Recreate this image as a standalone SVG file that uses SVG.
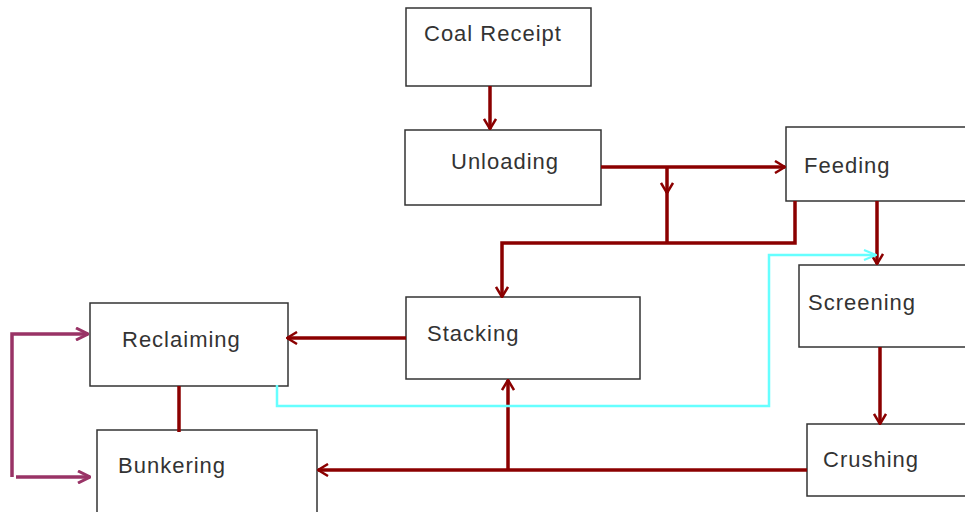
<svg xmlns="http://www.w3.org/2000/svg" width="965" height="512" viewBox="0 0 965 512">
<style>
.box{fill:#fff;stroke:#333;stroke-width:1.5}
.lbl{font-family:"Liberation Sans",Arial,sans-serif;font-size:22px;letter-spacing:1px;fill:#333}
.red{fill:none;stroke:#8b0000;stroke-width:3.5}
.cyan{fill:none;stroke:#66ffff;stroke-width:2.5}
.pur{fill:none;stroke:#993366;stroke-width:3.5}
</style>
<defs>
<marker id="ar" viewBox="0 0 12 14" refX="11" refY="7" markerWidth="12" markerHeight="14" markerUnits="userSpaceOnUse" orient="auto">
<path d="M1,1 L11,7 L1,13" fill="none" stroke="#8b0000" stroke-width="2.5"/>
</marker>
<marker id="ac" viewBox="0 0 14 12" refX="13" refY="6" markerWidth="14" markerHeight="12" markerUnits="userSpaceOnUse" orient="auto">
<path d="M1,1 L13,6 L1,11" fill="none" stroke="#66ffff" stroke-width="2"/>
</marker>
<marker id="ap" viewBox="0 0 14 14" refX="13" refY="7" markerWidth="14" markerHeight="14" markerUnits="userSpaceOnUse" orient="auto">
<path d="M1,1 L13,7 L1,13" fill="none" stroke="#993366" stroke-width="3"/>
</marker>
</defs>
<rect width="965" height="512" fill="#fff"/>
<g id="coal-receipt"><rect class="box" x="406" y="8" width="185" height="78"/><text class="lbl" x="424" y="41">Coal Receipt</text></g>
<g id="unloading"><rect class="box" x="405" y="130" width="196" height="75"/><text class="lbl" x="451" y="169">Unloading</text></g>
<g id="feeding"><rect class="box" x="786" y="127" width="190" height="74"/><text class="lbl" x="804" y="173">Feeding</text></g>
<g id="screening"><rect class="box" x="799" y="265" width="180" height="82"/><text class="lbl" x="808" y="310">Screening</text></g>
<g id="crushing"><rect class="box" x="807" y="424" width="170" height="72"/><text class="lbl" x="823" y="467">Crushing</text></g>
<g id="stacking"><rect class="box" x="406" y="297" width="234" height="82"/><text class="lbl" x="427" y="341">Stacking</text></g>
<g id="reclaiming"><rect class="box" x="90" y="303" width="198" height="83"/><text class="lbl" x="122" y="347">Reclaiming</text></g>
<g id="bunkering"><rect class="box" x="97" y="430" width="220" height="85"/><text class="lbl" x="118" y="473">Bunkering</text></g>
<g id="connectors">
<path class="red" d="M490,86 V129" marker-end="url(#ar)"/>
<path class="red" d="M601,167 H785" marker-end="url(#ar)"/>
<path class="red" d="M667,167 V193" marker-end="url(#ar)"/>
<path class="red" d="M667,190 V243"/>
<path class="red" d="M795,201 V243 H502 V297" marker-end="url(#ar)"/>
<path class="red" d="M877,201 V264" marker-end="url(#ar)"/>
<path class="red" d="M880,347 V424" marker-end="url(#ar)"/>
<path class="red" d="M807,470 H318" marker-end="url(#ar)"/>
<path class="red" d="M508,470 V380" marker-end="url(#ar)"/>
<path class="red" d="M406,338 H287" marker-end="url(#ar)"/>
<path class="red" d="M179,386 V432"/>
<path class="cyan" d="M277,385 V406 H769 V255 H876" marker-end="url(#ac)"/>
<path class="pur" d="M12,477 V334 H88" marker-end="url(#ap)"/>
<path class="pur" d="M16,477 H90" marker-end="url(#ap)"/>
</g>
</svg>
